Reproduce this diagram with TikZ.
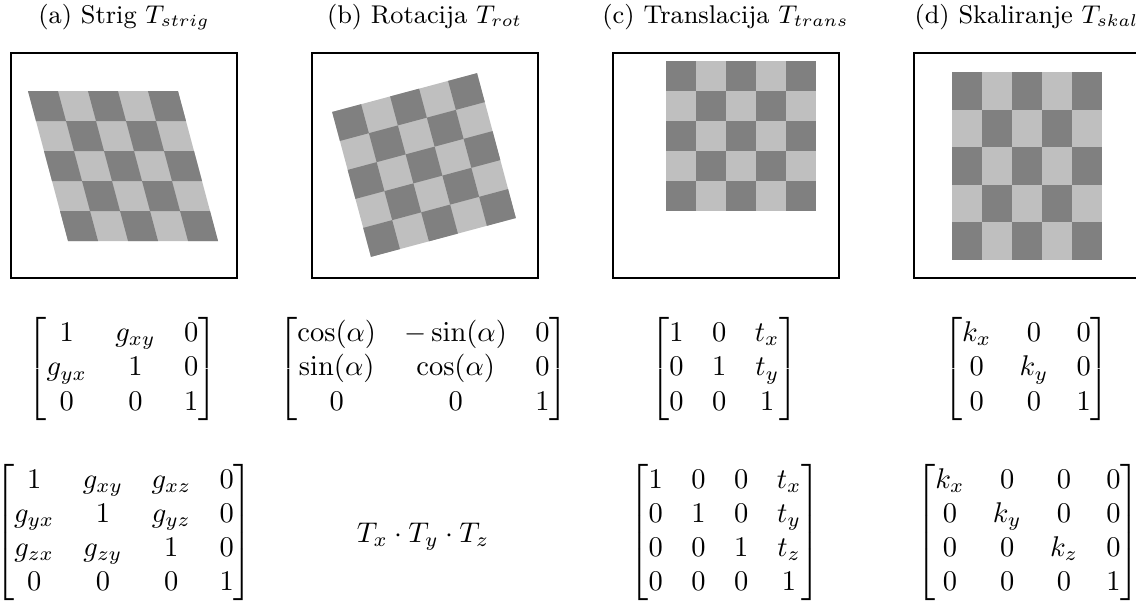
\documentclass[tikz,border=0pt]{standalone}
\usepackage{amsmath}
\newcommand\chkboard{%
  \fill[lightc] (-75,-75) rectangle (75,75);
  \foreach \i in {0,...,4}{\foreach \j in {0,...,4}{%
    \pgfmathtruncatemacro\cpar{mod(\i+\j,2)}%
    \ifnum\cpar=0 \fill[darkc] ({-75+30*\i},{-75+30*\j}) rectangle ++(30,30);\fi
  }}}
\begin{document}
\begin{tikzpicture}[x=0.351pt,y=-0.351pt,
  frame/.style={draw=black,line width=0.4pt},
  darkc/.style={fill=black!50},
  lightc/.style={fill=black!25},
  captext/.style={font=\small,anchor=base,inner sep=0pt},
  mat/.style={inner sep=0pt}]
\clip (0,0) rectangle (1136,605);
% frames
\draw[frame] (11,53) rectangle (237,278);
\draw[frame] (312,53) rectangle (538,278);
\draw[frame] (613,53) rectangle (839,278);
\draw[frame] (914,53) rectangle (1140,278);
% boards
\begin{scope}[shift={(123,166)},cm={1,0,-0.267,1,(0,0)}]\chkboard\end{scope}
\begin{scope}[shift={(424,165)},rotate=15]\chkboard\end{scope}
\begin{scope}[shift={(740.5,135.5)}]\chkboard\end{scope}
\begin{scope}[shift={(1026.5,166)},yscale=1.25]\chkboard\end{scope}
% captions
\node[captext] (ca) at (124,23.5) {(a) Strig $T_{strig}$};
\node[captext] (cb) at (424.5,23.5) {(b) Rotacija $T_{rot}$};
\node[captext] (cc) at (725.5,23.5) {(c) Translacija $T_{trans}$};
\node[captext] (cd) at (1026.5,23.5) {(d) Skaliranje $T_{skal}$};
% 2D matrices
\node[mat] (ma) at (122.5,369) {$\begin{bmatrix}1 & g_{xy} & 0\\ g_{yx} & 1 & 0\\ 0 & 0 & 1\end{bmatrix}$};
\node[mat] (mb) at (423.5,369) {$\begin{bmatrix}\cos(\alpha) & -\sin(\alpha) & 0\\ \sin(\alpha) & \cos(\alpha) & 0\\ 0 & 0 & 1\end{bmatrix}$};
\node[mat] (mc) at (724.5,369) {$\begin{bmatrix}1 & 0 & t_x\\ 0 & 1 & t_y\\ 0 & 0 & 1\end{bmatrix}$};
\node[mat] (md) at (1026.5,369) {$\begin{bmatrix}k_x & 0 & 0\\ 0 & k_y & 0\\ 0 & 0 & 1\end{bmatrix}$};
% 3D matrices
\node[mat] (na) at (124,532.5) {$\begin{bmatrix}1 & g_{xy} & g_{xz} & 0\\ g_{yx} & 1 & g_{yz} & 0\\ g_{zx} & g_{zy} & 1 & 0\\ 0 & 0 & 0 & 1\end{bmatrix}$};
\node[mat] (nb) at (423,537) {$T_x\cdot T_y\cdot T_z$};
\node[mat] (nc) at (725,532.5) {$\begin{bmatrix}1 & 0 & 0 & t_x\\ 0 & 1 & 0 & t_y\\ 0 & 0 & 1 & t_z\\ 0 & 0 & 0 & 1\end{bmatrix}$};
\node[mat] (nd) at (1028,532.5) {$\begin{bmatrix}k_x & 0 & 0 & 0\\ 0 & k_y & 0 & 0\\ 0 & 0 & k_z & 0\\ 0 & 0 & 0 & 1\end{bmatrix}$};
\end{tikzpicture}
\end{document}
